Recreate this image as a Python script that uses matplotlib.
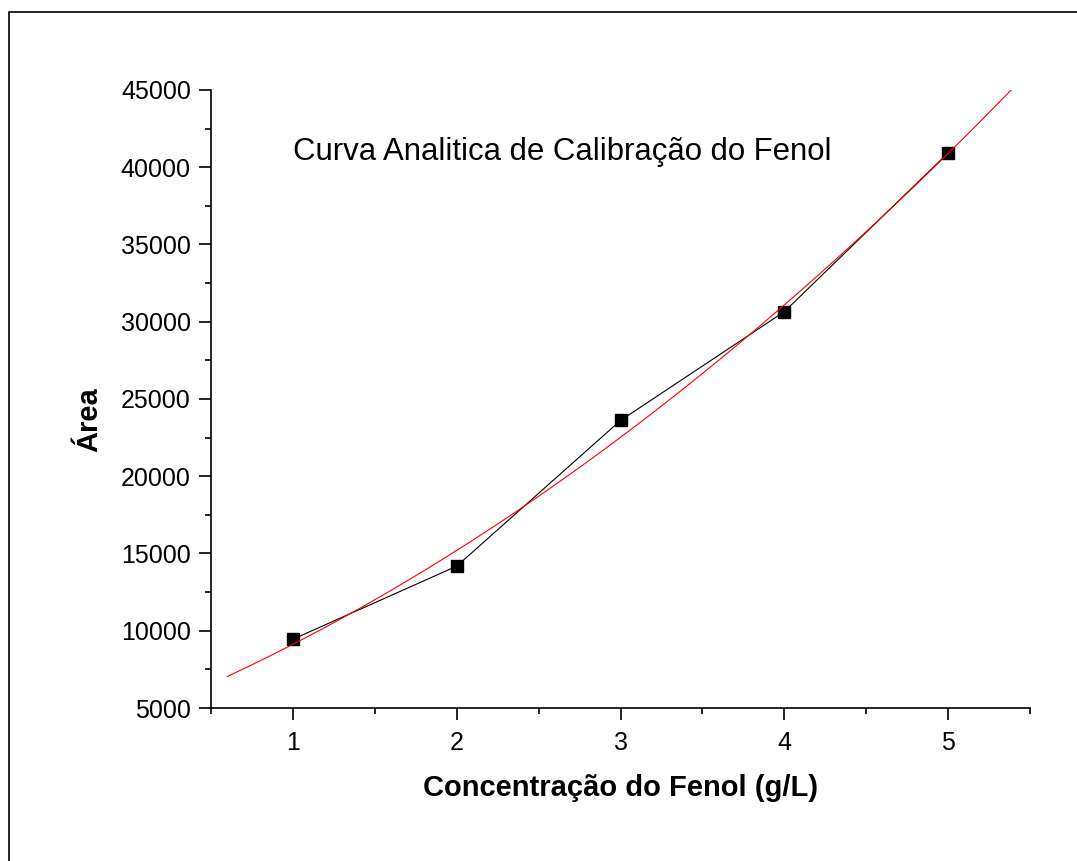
import matplotlib.pyplot as plt
import numpy as np
from matplotlib.ticker import MultipleLocator
from matplotlib.patches import Rectangle

plt.rcParams['font.family'] = ['Liberation Sans', 'DejaVu Sans']

# calibration standards: phenol concentration (g/L) vs peak area
conc = [1, 2, 3, 4, 5]
area = [9450, 14180, 23610, 30650, 40930]

# second order fit drawn over a slightly wider range than the data
coef = np.polyfit(conc, area, 2)
x_fit = np.linspace(0.6, 5.4, 200)
y_fit = np.polyval(coef, x_fit)

fig = plt.figure(figsize=(10.77, 8.61), dpi=100)
ax = fig.add_axes([0.1959, 0.1777, 0.7605, 0.7178])

ax.plot(conc, area, color='black', lw=0.8, marker='s', ms=8.6,
        markerfacecolor='black', markeredgecolor='black', zorder=3)
ax.plot(x_fit, y_fit, color='red', lw=0.8, zorder=4)

ax.set_xlim(0.5, 5.5)
ax.set_ylim(5000, 45000)
ax.xaxis.set_major_locator(MultipleLocator(1))
ax.xaxis.set_minor_locator(MultipleLocator(0.5))
ax.yaxis.set_major_locator(MultipleLocator(5000))
ax.yaxis.set_minor_locator(MultipleLocator(2500))

ax.spines['right'].set_visible(False)
ax.spines['top'].set_visible(False)
for s in ('left', 'bottom'):
    ax.spines[s].set_linewidth(1.2)

ax.tick_params(which='major', direction='out', length=8.5, width=1.2,
               labelsize=18)
ax.tick_params(which='minor', direction='out', length=4.5, width=1.2)
ax.tick_params(axis='x', which='major', pad=8)
ax.tick_params(axis='y', which='major', pad=6)

ax.set_xlabel('Concentração do Fenol (g/L)', fontsize=21, fontweight='bold')
ax.set_ylabel('Área', fontsize=21, fontweight='bold')
ax.xaxis.set_label_coords(0.5006, -0.129)
ax.xaxis.label.set_va('center')
ax.yaxis.set_label_coords(-0.148, 0.466)
ax.yaxis.label.set_va('center')

ax.text(0.1001, 0.8867, 'Curva Analitica de Calibração do Fenol',
        transform=ax.transAxes, fontsize=22.4, ha='left', va='baseline')

# frame around the figure
fig.add_artist(Rectangle((9 / 1077, -0.1), 1.2, 1.1 - 12 / 861,
                         transform=fig.transFigure, fill=False,
                         edgecolor='black', lw=1.2))

fig.savefig('out.png', dpi=100)
